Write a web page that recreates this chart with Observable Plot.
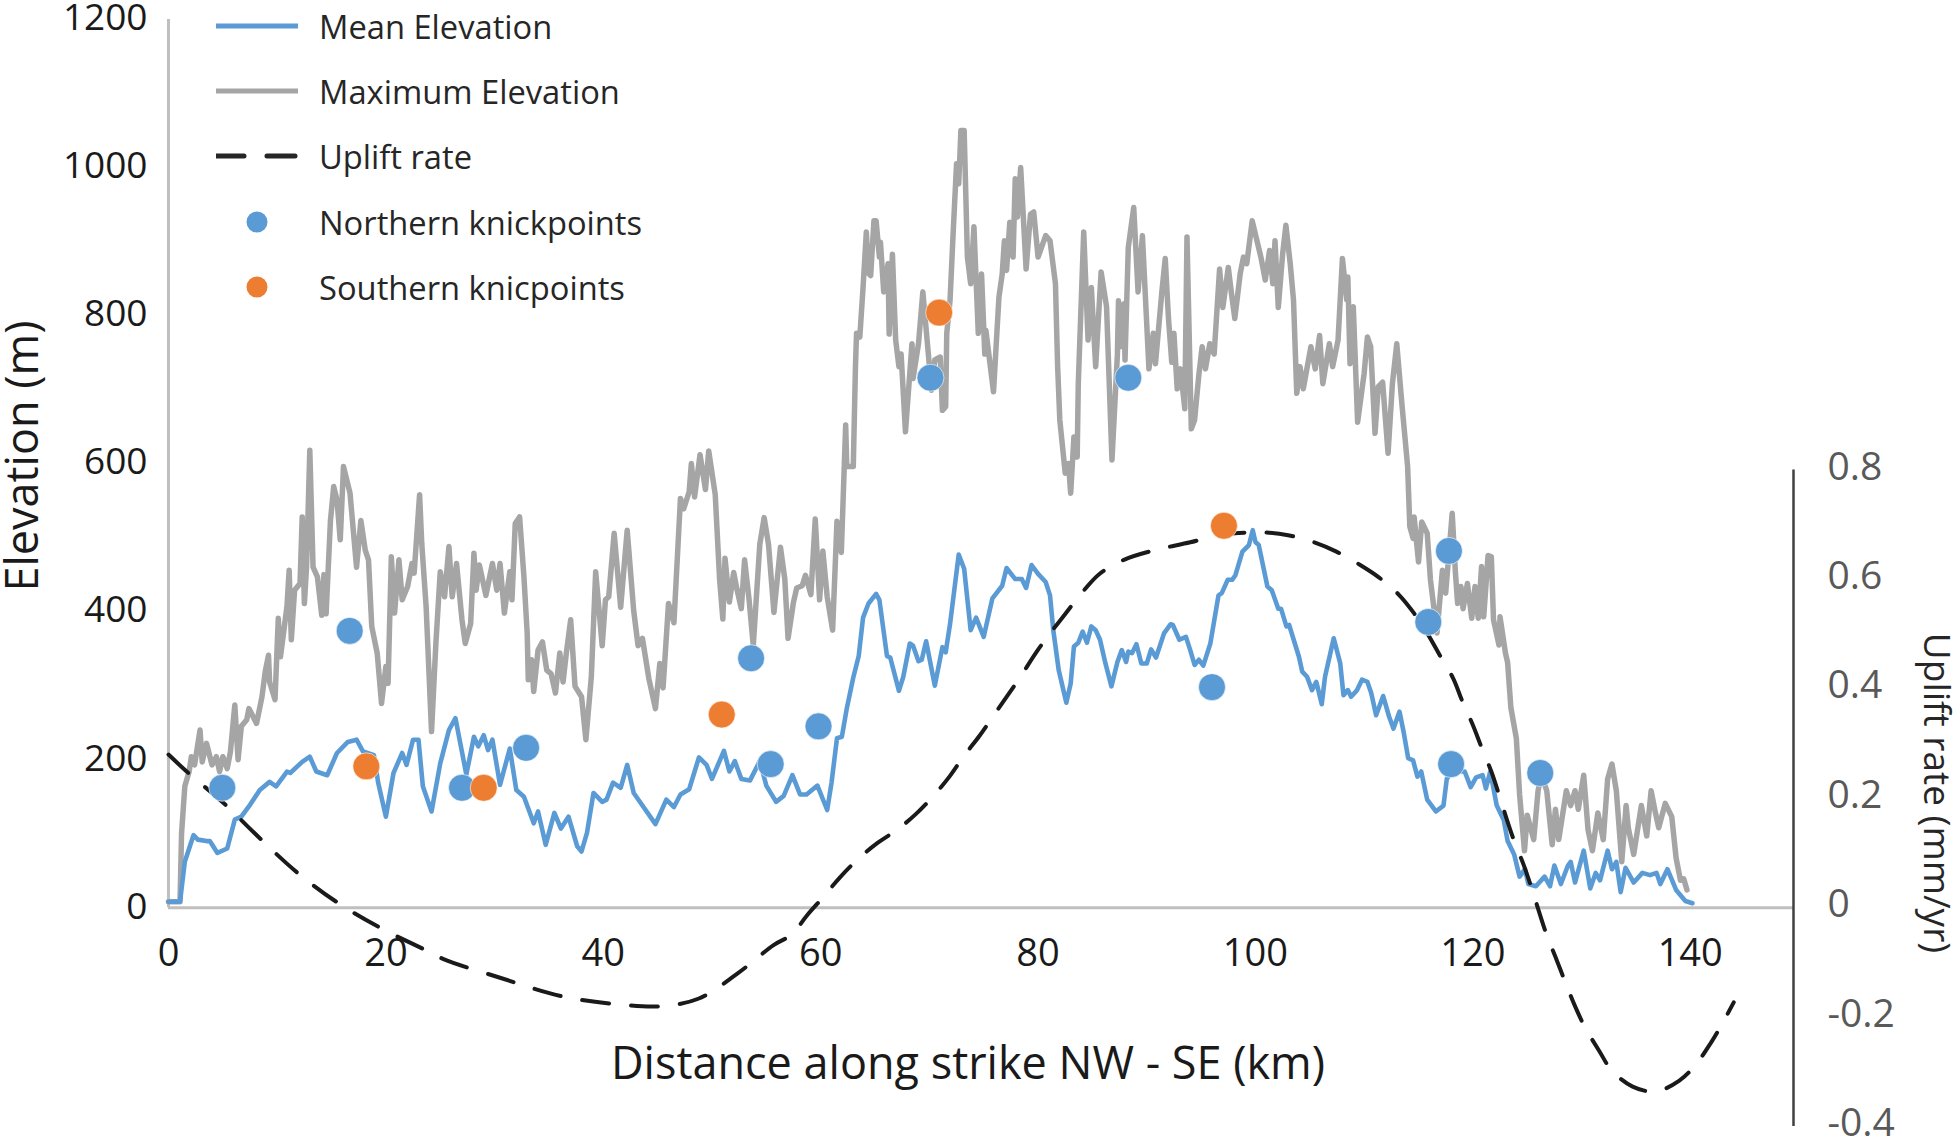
<!DOCTYPE html>
<html>
<head>
<meta charset="utf-8">
<script src="https://cdn.jsdelivr.net/npm/d3@7"></script>
<script src="https://cdn.jsdelivr.net/npm/@observablehq/plot@0.6"></script>
<style>
  body { margin: 0; background: white; font-family: "Open Sans", sans-serif; }
  #chart { position: relative; width: 1958px; height: 1140px; }
  #legend { position: absolute; left: 216px; top: 0; }
  #legend .row { position: absolute; left: 0; display: flex; align-items: center; height: 40px; white-space: nowrap; font-size: 32.7px; color: #262626; }
  #legend svg { width: 82px; height: 40px; margin-right: 21px; flex: none; }
</style>
</head>
<body>
<div id="chart"><div id="legend"></div></div>
<script>
// Values
const maxKm = [0,1.06,1.2,1.5,1.9,2.1,2.4,2.9,3.1,3.5,4.0,4.4,4.7,5.0,5.4,5.7,6.1,6.4,6.7,7.2,7.4,8.1,8.6,8.9,9.2,9.3,9.8,10.1,10.3,10.9,11.1,11.3,11.6,12.1,12.3,12.5,12.7,13.0,13.3,13.7,14.1,14.3,14.5,14.9,15.2,15.5,15.8,16.1,16.7,17.3,17.7,18.1,18.4,18.7,19.2,19.6,20.0,20.2,20.5,20.8,21.2,21.5,22.0,22.4,22.6,23.1,23.3,23.7,24.2,24.6,25.0,25.4,25.8,26.1,26.5,27.0,27.3,27.8,28.1,28.3,28.6,29.2,29.8,30.2,30.5,30.9,31.4,31.6,31.9,32.3,32.7,33.0,33.1,33.4,33.6,34.0,34.4,34.8,35.2,35.6,36.0,36.3,36.6,37.0,37.4,38.0,38.4,38.9,39.3,39.9,40.2,40.5,41.0,41.6,42.2,42.8,43.2,43.6,44.2,44.8,45.2,45.5,46.0,46.5,47.1,47.4,47.9,48.1,48.4,48.9,49.4,49.7,50.3,50.7,51.0,51.2,51.6,52.0,52.3,52.7,53.0,53.4,53.8,54.4,54.8,55.2,55.7,56.3,56.7,57.0,57.5,57.8,58.3,58.6,59.1,59.5,59.9,60.2,60.6,61.1,61.5,61.9,62.3,62.4,63.0,63.2,63.3,63.6,63.9,64.2,64.4,64.6,64.9,65.1,65.4,65.5,65.8,66.2,66.3,66.6,66.9,67.2,67.4,67.8,68.4,68.5,69.0,69.4,70.2,70.5,71.0,71.2,71.5,71.6,71.9,72.2,72.5,72.7,72.9,73.2,73.5,73.8,74.1,74.5,74.8,75.1,75.2,75.9,76.4,76.7,76.9,77.1,77.4,77.7,77.9,78.1,78.4,78.9,79.3,79.6,80.0,80.7,81.1,81.6,81.8,82.0,82.5,82.8,83.0,83.3,83.6,83.7,84.2,84.6,84.9,85.3,85.8,86.3,86.8,87.3,87.4,87.6,87.9,88.0,88.3,88.8,89.2,89.6,90.2,90.6,90.8,91.4,91.7,92.0,92.3,92.5,92.8,93.1,93.5,93.7,94.1,94.4,94.8,95.1,95.4,95.8,96.2,96.7,97.0,97.5,97.8,98.1,98.6,98.9,99.2,99.7,100.5,100.9,101.3,101.6,101.8,102.1,102.5,102.8,103.2,103.5,103.8,104.1,104.4,105.1,105.5,105.9,106.2,106.8,107.1,107.6,108.0,108.4,108.5,108.7,109.0,109.4,110.0,110.3,110.6,111.0,111.3,111.7,112.2,112.6,113.0,113.5,114.0,114.2,114.5,114.6,115.0,115.3,115.8,116.1,116.7,117.2,117.5,118.1,118.4,118.6,118.9,119.1,119.5,119.9,120.2,120.5,120.8,121.0,121.4,121.7,121.9,122.4,122.5,123.0,123.2,123.5,124.0,124.3,124.75,125.0,125.6,126.0,126.3,126.8,127.3,127.6,127.9,128.6,129.0,129.4,129.7,130.2,130.6,131.0,131.5,132.0,132.4,132.8,133.2,133.7,134.1,134.3,134.8,135.5,136.0,136.4,136.8,137.1,137.7,138.3,138.7,139.1,139.4,139.7];
const maxElev = [8,8,100,164,184,204,193,240,197,222,193,204,184,204,188,211,274,200,245,254,269,249,285,319,341,305,281,391,339,407,456,362,429,438,528,411,460,618,460,447,395,450,397,523,569,551,497,596,560,460,523,483,470,380,344,276,326,303,474,398,470,416,434,465,452,558,492,407,238,357,454,420,488,420,465,389,357,384,479,429,463,422,465,429,465,398,454,416,519,528,447,371,308,335,292,348,359,321,316,290,344,305,344,389,299,285,227,312,454,354,416,420,506,406,510,401,354,364,309,269,330,297,411,385,553,539,562,600,555,612,565,617,558,444,390,472,413,453,430,404,470,418,354,491,527,491,399,487,444,364,413,432,435,449,423,525,416,482,420,375,522,480,652,596,596,731,776,771,838,913,857,854,928,928,879,899,832,870,775,883,767,731,748,643,762,715,762,832,699,740,744,672,677,776,820,915,1005,978,1050,1050,879,843,920,776,856,748,780,697,825,856,901,861,926,879,985,933,1000,863,937,940,879,908,901,843,731,659,587,600,560,636,609,708,913,767,838,731,859,812,605,748,820,758,816,740,892,946,832,908,728,776,735,834,877,796,737,776,701,728,674,906,647,659,721,758,728,762,748,863,811,865,829,796,857,879,870,928,879,848,888,843,901,811,883,922,870,821,695,731,701,758,728,773,708,762,731,767,877,821,852,735,812,656,722,771,758,641,704,710,614,708,762,676,596,515,499,528,467,521,506,443,371,456,425,533,452,411,434,404,438,391,434,391,461,393,476,474,389,355,393,344,331,270,229,153,77,125,92,158,180,158,85,133,92,158,138,158,133,179,105,77,128,92,174,194,158,62,138,108,72,138,97,158,128,108,141,123,67,37,39,24];

const meanKm = [0,1.06,1.5,2.3,2.7,3.5,3.8,4.5,5.4,6.1,6.7,7.5,8.4,9.3,9.9,10.9,11.2,12.3,13.0,13.6,14.6,15.5,16.5,17.3,17.9,18.9,19.3,20.0,20.7,21.5,21.9,22.5,23.0,23.4,24.2,25.0,25.8,26.4,27.4,28.1,28.5,29.0,29.4,29.8,30.5,31.4,32.0,32.7,33.6,34.0,34.7,35.5,36.1,36.8,37.6,38.0,38.5,39.1,39.9,40.3,40.9,41.6,42.2,42.8,43.7,44.8,45.8,46.5,47.1,47.9,48.8,49.5,50.0,51.1,51.6,52.1,52.7,53.5,54.4,55.0,55.9,56.6,57.4,58.1,58.7,59.7,60.6,61.0,61.5,61.95,62.4,63.0,63.5,63.9,64.4,65.1,65.4,66.1,66.4,67.2,67.6,68.2,68.5,69.0,69.3,69.7,70.5,71.2,71.5,71.9,72.7,73.2,73.8,74.3,75.0,75.8,76.7,77.1,77.9,78.5,78.9,79.4,80.0,80.7,81.1,81.4,81.9,82.6,83.0,83.3,83.7,84.1,84.5,84.9,85.3,85.7,86.2,86.75,87.3,87.7,88.1,88.3,88.65,89.05,89.5,90.0,90.4,90.85,91.6,92.2,92.4,93.0,93.6,94.0,94.4,94.8,95.2,95.85,96.6,96.9,97.45,97.85,98.15,98.8,99.4,99.75,100.0,100.3,101.1,101.5,102.1,102.35,102.85,103.1,104.0,104.3,104.75,105.2,105.6,106.1,106.4,107.2,107.8,108.1,108.5,108.8,109.35,109.8,110.3,110.65,111.1,111.75,112.3,112.7,113.25,113.65,114.05,114.5,114.9,115.25,115.8,116.6,117.3,117.6,118.1,119.25,119.8,120.3,120.9,121.2,121.6,122.2,122.85,123.2,123.8,124.3,124.8,125.1,125.8,126.6,127.1,127.5,128.1,128.75,129.0,129.4,130.2,130.8,131.3,131.7,132.4,132.8,133.2,133.6,134.05,134.8,135.6,136.3,136.9,137.25,137.9,138.7,139.55,140.2];
const meanElev = [8,8,62,98,92,90,90,74,80,119,123,139,159,170,164,184,182,197,204,184,179,209,224,227,211,206,168,123,182,209,193,227,227,164,130,195,240,256,180,231,218,233,213,227,166,215,159,150,114,130,85,128,107,123,83,76,101,155,143,146,169,162,193,155,136,113,146,136,153,160,203,193,174,212,184,198,174,172,198,165,143,151,179,153,153,165,132,169,229,231,269,311,340,392,411,424,416,340,338,293,312,357,354,333,335,360,300,352,345,383,477,458,375,392,366,418,435,459,444,444,432,463,451,440,422,375,321,277,303,353,358,373,358,380,375,362,330,299,332,348,332,346,344,356,330,330,349,338,371,383,382,362,366,348,328,335,327,357,422,425,443,443,449,481,490,510,494,490,434,429,404,404,380,382,339,319,312,294,305,275,312,364,330,287,294,285,294,308,305,290,260,286,258,242,265,236,202,199,177,184,146,130,138,174,184,184,163,176,179,161,184,138,118,90,72,42,52,32,29,42,29,57,32,57,62,34,77,26,47,37,77,52,62,21,54,34,47,44,47,32,52,24,9,6];

const upliftKm = [0,1.67,5.14,8.4,11.8,15.5,19.5,23.6,25.3,30.5,36.2,42,45.4,48.8,52.3,55.7,57.35,58.7,60.3,61.8,63.4,65.2,67,68.8,70.4,71.9,73.2,74.6,75.9,77.2,78.5,79.8,81.2,82.5,84,85.7,87.9,90.8,94,96.5,98.5,100.9,103,105.4,107.45,109.6,111.35,113.2,114.6,115.8,117,118.2,119,120,120.8,121.7,122.4,123.1,123.8,124.7,125.4,126.1,126.8,127.7,128.5,129.4,130.3,131.6,132.8,134.7,136.8,139,140.5,141.9,143,144];
const upliftRate = [0.28,0.249,0.19,0.127,0.065,0.01,-0.037,-0.077,-0.094,-0.128,-0.162,-0.178,-0.18,-0.166,-0.121,-0.068,-0.049,-0.015,0.021,0.056,0.088,0.118,0.142,0.172,0.205,0.241,0.278,0.314,0.351,0.388,0.426,0.466,0.504,0.537,0.575,0.611,0.636,0.654,0.668,0.681,0.685,0.686,0.681,0.668,0.651,0.627,0.604,0.572,0.538,0.502,0.46,0.419,0.379,0.334,0.293,0.249,0.207,0.163,0.122,0.077,0.036,-0.008,-0.05,-0.095,-0.136,-0.18,-0.218,-0.261,-0.298,-0.327,-0.336,-0.316,-0.287,-0.247,-0.21,-0.173];

const northKm = [4.95,16.67,27.0,32.9,53.6,55.4,59.8,70.1,88.3,96.0,115.9,117.8,118.0,126.2];
const northElev = [162,374,162,216,337,194,245,716,716,298,386,482,194,182];
const southKm = [18.2,29.0,50.9,70.9,97.1];
const southElev = [191,162,261,804,516];

const elevTicks = [0,200,400,600,800,1000,1200];
const distTicks = [0,20,40,60,80,100,120,140];
const upliftTicks = [0.8,0.6,0.4,0.2,0,-0.2,-0.4];

// uplift shares the y scale: 0.2 mm/yr sits as far apart as 148 m
const upliftToElev = u => u * 739;

const blue = "#5b9bd5", grey = "#a5a5a5", orange = "#ed7d31", ink = "#1a1a1a";
const xEnd = 149.5;

const zip = (xs, ys) => xs.map((x, i) => ({x, y: ys[i]}));

const chart = Plot.plot({
  width: 1958,
  height: 1140,
  marginLeft: 168,
  marginRight: 165,
  marginTop: 19,
  marginBottom: 14,
  style: {fontFamily: "'Open Sans', sans-serif", background: "transparent", overflow: "visible"},
  x: {domain: [0, xEnd]},
  y: {domain: [upliftToElev(-0.4), 1200]},
  marks: [
    Plot.ruleX([0], {y1: 0, y2: 1200, stroke: "#bfbfbf", strokeWidth: 3}),
    Plot.ruleY([0], {x1: 0, x2: xEnd, stroke: "#bfbfbf", strokeWidth: 3}),
    Plot.ruleX([xEnd], {y1: upliftToElev(-0.4), y2: upliftToElev(0.8), stroke: "#404040", strokeWidth: 2.5}),
    Plot.axisY({anchor: "left", ticks: elevTicks, tickSize: 0, tickPadding: 21, tickFormat: d => String(d), label: null, fontSize: 37, fill: ink, dy: -1}),
    Plot.axisX({anchor: "bottom", ticks: distTicks, tickSize: 0, label: null, fontSize: 38, fill: ink, tickPadding: 0, dy: -187}),
    Plot.axisY(upliftTicks.map(upliftToElev), {anchor: "right", tickSize: 0, tickPadding: 34, tickFormat: d => String(+(d / 739).toFixed(1)), label: null, fontSize: 39, fill: "#595959", dy: -3}),
    Plot.text(["Elevation (m)"], {frameAnchor: "middle", text: d => d, rotate: -90, fontSize: 45, fill: ink, dx: -957, dy: -117}),
    Plot.text(["Uplift rate (mm/yr)"], {frameAnchor: "middle", text: d => d, rotate: 90, fontSize: 37, fill: "#262626", dx: 1935 - 980.5, dy: 220}),
    Plot.text(["Distance along strike NW - SE (km)"], {frameAnchor: "middle", text: d => d, fontSize: 45, fill: ink, dx: -13, dy: 492}),
    Plot.line(zip(maxKm, maxElev), {x: "x", y: "y", stroke: grey, strokeWidth: 5.5}),
    Plot.line(zip(meanKm, meanElev), {x: "x", y: "y", stroke: blue, strokeWidth: 4.6}),
    Plot.line(zip(upliftKm, upliftRate), {x: "x", y: d => upliftToElev(d.y), stroke: ink, strokeWidth: 4, strokeDasharray: "27 22", curve: "catmull-rom"}),
    Plot.dot(zip(northKm, northElev), {x: "x", y: "y", r: 13.5, fill: blue, stroke: "white", strokeWidth: 0.6}),
    Plot.dot(zip(southKm, southElev), {x: "x", y: "y", r: 13.5, fill: orange, stroke: "white", strokeWidth: 0.6})
  ]
});

document.querySelector("#chart").prepend(chart);
chart.style.position = "absolute";
chart.style.left = "0";
chart.style.top = "0";

// Legend sits inside the plot area, top left
const legendItems = [
  {label: "Mean Elevation", color: blue, kind: "line"},
  {label: "Maximum Elevation", color: grey, kind: "line"},
  {label: "Uplift rate", color: "#262626", kind: "dash"},
  {label: "Northern knickpoints", color: blue, kind: "dot"},
  {label: "Southern knicpoints", color: orange, kind: "dot"}
];
const legendTops = [6, 71, 136, 202, 267];

const legend = d3.select("#legend");
legendItems.forEach((item, i) => {
  const row = legend.append("div").attr("class", "row").style("top", legendTops[i] + "px");
  const svg = row.append("svg").attr("viewBox", "0 0 82 40");
  if (item.kind === "dot") {
    svg.append("circle").attr("cx", 41).attr("cy", 20).attr("r", 10.5).attr("fill", item.color);
  } else {
    svg.append("line").attr("x1", 0).attr("x2", 82).attr("y1", 20).attr("y2", 20)
      .attr("stroke", item.color).attr("stroke-width", 5).attr("stroke-linecap", "round")
      .attr("stroke-dasharray", item.kind === "dash" ? "28 23" : null);
  }
  row.append("span").text(item.label);
});
</script>
</body>
</html>
